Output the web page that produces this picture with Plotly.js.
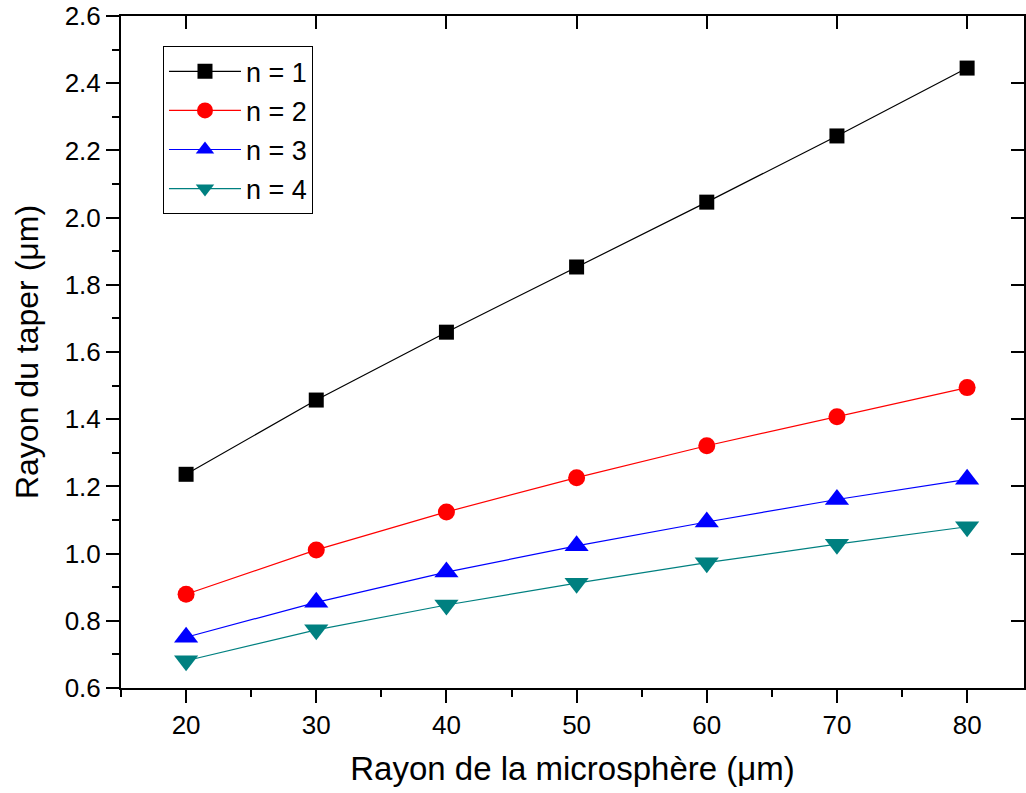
<!DOCTYPE html>
<html>
<head>
<meta charset="utf-8">
<script src="https://cdn.plot.ly/plotly-3.0.1.min.js"></script>
<style>html,body{margin:0;padding:0;background:#fff;}#chart{width:1026px;height:793px;}</style>
</head>
<body>
<div id="chart"></div>
<script>
const microsphereRadius = [20, 30, 40, 50, 60, 70, 80];
const taperN1 = [1.236, 1.457, 1.659, 1.853, 2.046, 2.243, 2.445];
const taperN2 = [0.879, 1.011, 1.124, 1.226, 1.321, 1.407, 1.494];
const taperN3 = [0.751, 0.855, 0.945, 1.023, 1.094, 1.161, 1.221];
const taperN4 = [0.681, 0.773, 0.847, 0.912, 0.973, 1.028, 1.080];
const seriesNames = ['n = 1', 'n = 2', 'n = 3', 'n = 4'];

const FONT = 'Liberation Sans, Arial, sans-serif';
const styles = [
  {color: '#000000', symbol: 'square', size: 15},
  {color: '#FF0000', symbol: 'circle', size: 17},
  {color: '#0000FF', symbol: 'triangle-up', size: 21},
  {color: '#008080', symbol: 'triangle-down', size: 21}
];
const seriesValues = [taperN1, taperN2, taperN3, taperN4];

const traces = seriesValues.map((vals, i) => ({
  x: microsphereRadius,
  y: vals,
  name: seriesNames[i],
  legendgroup: 'g' + i,
  type: 'scatter',
  mode: 'lines+markers',
  line: {color: styles[i].color, width: 1.2},
  marker: {color: styles[i].color, symbol: styles[i].symbol, size: styles[i].size, line: {width: 0}},
  cliponaxis: false
}));
traces.push({x: [], y: [], xaxis: 'x2', yaxis: 'y2', showlegend: false, type: 'scatter', mode: 'markers'});

const xRange = [15, 84.37];
const yRange = [0.6, 2.6];

const layout = {
  width: 1026,
  height: 793,
  margin: {l: 121, r: 2, t: 16, b: 105},
  paper_bgcolor: '#ffffff',
  plot_bgcolor: '#ffffff',
  font: {family: FONT, color: '#000000'},
  showlegend: true,
  legend: {
    x: 0.0465, y: 0.955, xanchor: 'left', yanchor: 'top',
    bordercolor: '#000000', borderwidth: 1, bgcolor: '#ffffff',
    font: {family: FONT, size: 27, color: '#000000'},
    tracegroupgap: 1,
    itemwidth: 72
  },
  xaxis: {
    range: xRange, tickmode: 'linear', tick0: 20, dtick: 10,
    showgrid: false, zeroline: false, showline: true, linecolor: '#000000', linewidth: 2,
    ticks: 'outside', ticklen: 13, tickwidth: 2, tickcolor: '#000000',
    minor: {ticks: 'outside', ticklen: 7, tickwidth: 2, tickcolor: '#000000', dtick: 5, tick0: 15, showgrid: false},
    tickfont: {family: FONT, size: 26, color: '#000000'},
    title: {text: 'Rayon de la microsphère (μm)', font: {family: FONT, size: 33, color: '#000000'}, standoff: 18}
  },
  yaxis: {
    range: yRange, tickmode: 'linear', tick0: 0.6, dtick: 0.2, tickformat: '.1f',
    showgrid: false, zeroline: false, showline: true, linecolor: '#000000', linewidth: 2,
    ticks: 'outside', ticklen: 13, tickwidth: 2, tickcolor: '#000000',
    minor: {ticks: 'outside', ticklen: 7, tickwidth: 2, tickcolor: '#000000', dtick: 0.1, showgrid: false},
    tickfont: {family: FONT, size: 26, color: '#000000'},
    title: {text: 'Rayon du taper (μm)', font: {family: FONT, size: 32, color: '#000000'}, standoff: 16}
  },
  xaxis2: {
    range: xRange, overlaying: 'x', side: 'top', anchor: 'y2',
    tickmode: 'linear', tick0: 20, dtick: 10,
    showgrid: false, zeroline: false, showline: true, linecolor: '#000000', linewidth: 2,
    ticks: 'inside', ticklen: 13, tickwidth: 2, tickcolor: '#000000', showticklabels: false
  },
  yaxis2: {
    range: yRange, overlaying: 'y', side: 'right', anchor: 'x2',
    tickmode: 'linear', tick0: 0.6, dtick: 0.2,
    showgrid: false, zeroline: false, showline: true, linecolor: '#000000', linewidth: 2,
    ticks: 'inside', ticklen: 13, tickwidth: 2, tickcolor: '#000000', showticklabels: false
  }
};

Plotly.newPlot('chart', traces, layout, {displayModeBar: false, staticPlot: true});
</script>
</body>
</html>
